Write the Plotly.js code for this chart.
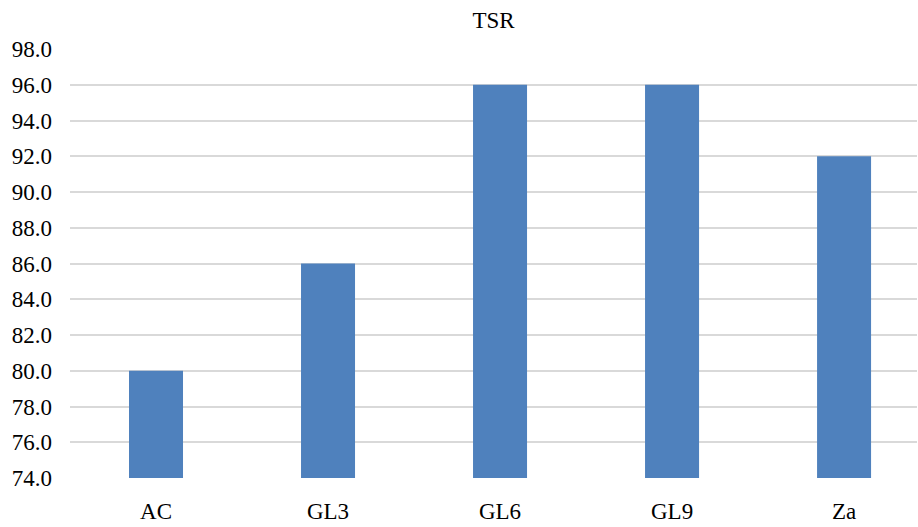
<!DOCTYPE html>
<html><head><meta charset="utf-8">
<script src="https://cdn.plot.ly/plotly-3.0.1.min.js"></script>
<style>html,body{margin:0;padding:0;background:#fff}#c{width:918px;height:527px}</style>
</head><body><div id="c"></div>
<script>
const categories = ["AC", "GL3", "GL6", "GL9", "Za"];
const tsrValues = [80.0, 86.0, 96.0, 96.0, 92.0];
const yTicks = [74, 76, 78, 80, 82, 84, 86, 88, 90, 92, 94, 96, 98];

const fam = '"Liberation Serif", "Times New Roman", serif';
Plotly.newPlot("c", [{
  type: "bar",
  x: categories,
  y: tsrValues,
  marker: {color: "#4F81BD"},
  width: 0.314,
  hoverinfo: "x+y"
}], {
  width: 918, height: 527,
  margin: {l: 70, r: 1, t: 48.5, b: 48.5},
  paper_bgcolor: "#fff", plot_bgcolor: "#fff",
  font: {family: fam, color: "#000", size: 23},
  title: {text: "TSR", font: {family: fam, size: 23, color: "#000"}, x: 0.5, xref: "paper", y: 0.963, yanchor: "middle"},
  showlegend: false,
  xaxis: {
    type: "category",
    range: [-0.5, 4.424],
    showgrid: false, zeroline: false, showline: false,
    ticks: "", tickfont: {family: fam, color: "#000", size: 23}, ticklabelstandoff: 17
  },
  yaxis: {
    range: [74, 98],
    tickvals: yTicks,
    tickformat: ".1f",
    showgrid: true, gridcolor: "#D9D9D9", gridwidth: 2,
    zeroline: false, showline: false, ticks: "",
    tickfont: {family: fam, color: "#000", size: 23}, ticklabelstandoff: 17
  }
}, {displayModeBar: false, staticPlot: true});
</script></body></html>
